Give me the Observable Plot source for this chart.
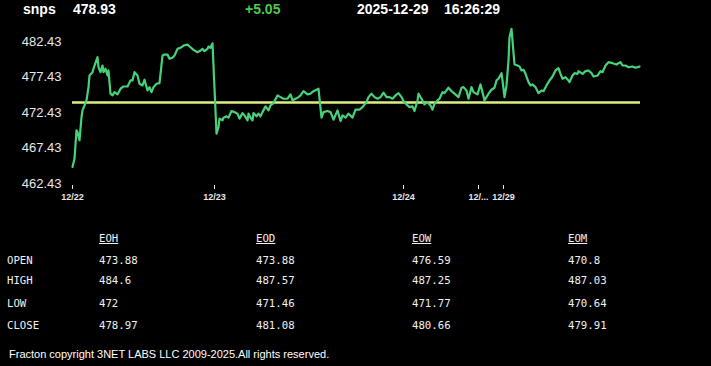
<!DOCTYPE html>
<html>
<head>
<meta charset="utf-8">
<script src="https://cdn.jsdelivr.net/npm/d3@7"></script>
<script src="https://cdn.jsdelivr.net/npm/@observablehq/plot@0.6"></script>
<style>
  html, body { margin: 0; padding: 0; background: #000; }
  #page { position: relative; width: 711px; height: 366px; overflow: hidden; background: #000; color: #fff; }
  .hdr { position: absolute; top: 2px; font: bold 14px 'Liberation Sans', Arial, sans-serif; line-height: 14px; white-space: nowrap; color: #fff; }
  .cell { position: absolute; font: 10.7px 'DejaVu Sans Mono', 'Liberation Mono', monospace; line-height: 12px; color: #f0f0f0; white-space: nowrap; }
  .colhead { text-decoration: underline; }
  #footer { position: absolute; left: 9px; top: 348.5px; font: 11px 'Liberation Sans', Arial, sans-serif; line-height: 11px; color: #fff; white-space: nowrap; }
  #chart { position: absolute; left: 0; top: 0; }
</style>
</head>
<body>
<div id="page"></div>
<script>
// ---- header text ----
const symbol = "snps";
const lastPrice = "478.93";
const change = "+5.05";
const dateText = "2025-12-29";
const timeText = "16:26:29";

// ---- price series (sample index, price) ----
const tIndex = [0,2,4,5,7,9,10,12,14,16,17,20,22,25,26,28,30,31,33,35,36,38,40,42,45,48,51,55,58,60,62,65,67,70,72,75,77,79,81,84,87,90,92,95,97,100,102,105,108,111,115,118,121,125,128,130,132,135,136,138,140,
144,146,147,150,151,154,156,159,162,165,167,170,172,175,176,178,180,181,184,186,188,190,193,196,198,201,205,208,211,215,218,220,223,226,228,231,235,238,241,246,
249,251,255,258,261,265,268,270,273,276,280,283,287,290,294,296,299,302,305,308,311,314,317,320,323,326,329,331,335,337,340,342,345,346,349,352,355,358,360,362,365,367,370,372,376,379,382,386,389,391,394,396,399,401,405,408,410,412,416,419,422,424,426,429,430,432,434,436,437,439,440,442,445,447,449,451,453,456,458,460,463,466,469,471,474,477,480,483,486,488,490,493,496,497,500,502,505,506,510,513,516,519,521,525,528,530,533,536,540,544,546,548,550,553,556,560,563,567];
const price = [464.77,465.95,469.94,469.70,468.53,471.81,472.75,473.46,474.16,476.04,477.68,478.15,479.09,480.26,478.85,478.15,479.09,478.15,478.63,477.68,478.39,475.11,474.87,475.33,475.01,475.81,476.13,476.13,476.98,476.98,478.15,477.68,476.52,476.28,477.08,475.57,476.04,475.33,476.04,476.52,476.60,480.50,480.64,480.64,480.04,480.18,480.50,481.44,481.59,481.91,482.05,481.67,481.30,480.97,481.21,481.44,481.11,481.44,481.77,481.59,482.23,
469.47,470.40,471.59,471.35,471.73,471.91,471.73,472.66,472.51,472.29,471.59,472.37,472.05,471.35,472.29,471.73,471.35,472.37,471.91,472.29,471.91,472.51,473.32,472.75,473.46,473.78,474.87,474.63,474.40,474.40,475.01,474.16,474.40,474.63,474.87,475.47,475.01,475.11,475.47,475.81,
471.73,472.51,472.66,472.51,471.44,472.75,471.25,472.05,471.73,472.29,471.73,472.85,472.85,473.22,473.92,474.63,475.11,474.63,474.40,474.63,475.25,474.63,474.63,474.40,474.87,475.19,474.63,474.06,473.46,473.22,473.32,472.66,474.16,475.11,474.40,473.60,473.92,473.46,472.85,473.70,474.16,474.40,475.33,475.19,475.95,475.47,475.11,474.63,475.95,476.04,475.57,474.40,476.04,475.33,475.01,476.42,475.33,474.16,475.11,475.67,475.95,476.98,477.22,478.01,476.98,474.63,476.28,479.80,483.08,484.26,482.61,479.23,479.09,478.95,478.39,478.49,477.92,476.74,476.28,476.42,476.04,475.19,475.57,475.47,476.28,476.98,477.54,478.39,478.71,477.92,477.22,477.44,476.98,476.74,477.68,478.01,477.92,478.29,477.92,478.29,478.39,478.01,477.54,477.68,478.29,478.15,479.09,479.56,479.42,479.23,479.42,479.56,479.09,479.09,478.85,478.95,478.77,478.93];

// ---- reference (open) price ----
const refPrice = [473.88];

// ---- axes ----
const dayTickIndex = [0, 142, 331, 406, 431];
const dayTickLabels = ["12/22", "12/23", "12/24", "12/...", "12/29"];
const yTicks = [462.43, 467.43, 472.43, 477.43, 482.43];
const yDomain = [462.43, 484.6];
const xDomain = [0, 568];

// ---- stats table ----
const statRows = ["OPEN", "HIGH", "LOW", "CLOSE"];
const statCols = ["EOH", "EOD", "EOW", "EOM"];
const eohVals = ["473.88", "484.6", "472", "478.97"];
const eodVals = ["473.88", "487.57", "471.46", "481.08"];
const eowVals = ["476.59", "487.25", "471.77", "480.66"];
const eomVals = ["470.8", "487.03", "470.64", "479.91"];

const footerText = "Fracton copyright 3NET LABS LLC 2009-2025.All rights reserved.";

// ---- build ----
const page = document.getElementById("page");
const series = tIndex.map((t, i) => ({t, p: price[i]}));

const chart = Plot.plot({
  width: 711,
  height: 215,
  marginLeft: 72,
  marginRight: 71,
  marginTop: 26,
  marginBottom: 32,
  style: {background: "transparent", color: "#e8e8e8", fontFamily: "'Liberation Sans', Arial, sans-serif", overflow: "visible"},
  x: {domain: xDomain, axis: null},
  y: {domain: yDomain, axis: null},
  marks: [
    Plot.axisY({ticks: yTicks, tickSize: 0, tickPadding: 11, fontSize: 13, label: null, tickFormat: d => d.toFixed(2)}),
    Plot.axisX({ticks: dayTickIndex, tickSize: 4, tickPadding: 4, dy: 2, fontSize: 9, fontWeight: "bold", label: null,
      tickFormat: d => dayTickLabels[dayTickIndex.indexOf(d)]}),
    Plot.ruleY(refPrice, {stroke: "#dcee84", strokeWidth: 2.5}),
    Plot.line(series, {x: "t", y: "p", stroke: "#46d27a", strokeWidth: 2.2})
  ]
});
chart.id = "chart";
page.appendChild(chart);

function addText(cls, text, left, top, color) {
  const d = document.createElement("div");
  d.className = cls;
  d.textContent = text;
  d.style.left = left + "px";
  if (top != null) d.style.top = top + "px";
  if (color) d.style.color = color;
  page.appendChild(d);
  return d;
}

addText("hdr", symbol, 23);
addText("hdr", lastPrice, 73);
addText("hdr", change, 245, null, "#4ec94b");
addText("hdr", dateText, 357);
addText("hdr", timeText, 444);

const colX = [99, 256, 412, 568];
const rowY = [254.6, 275.4, 297.6, 319.6];
const colVals = [eohVals, eodVals, eowVals, eomVals];
statCols.forEach((c, j) => addText("cell colhead", c, colX[j], 233));
statRows.forEach((r, i) => {
  addText("cell", r, 7, rowY[i]);
  colVals.forEach((vals, j) => addText("cell", vals[i], colX[j], rowY[i]));
});

const f = document.createElement("div");
f.id = "footer";
f.textContent = footerText;
page.appendChild(f);
</script>
</body>
</html>
